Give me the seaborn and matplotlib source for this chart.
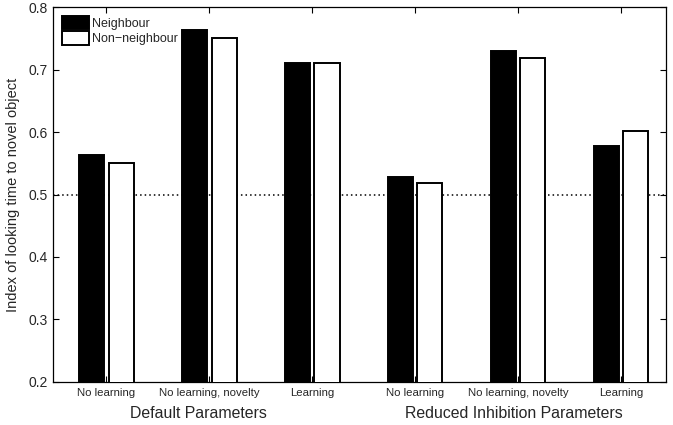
import pandas as pd
import numpy as np
import matplotlib
matplotlib.use("Agg")
import matplotlib.pyplot as plt
import matplotlib.transforms as mtransforms
import seaborn as sns

# values
conditions = ["No learning", "No learning, novelty", "Learning"]
param_sets = ["Default Parameters", "Reduced Inhibition Parameters"]
neighbour = [0.563, 0.763, 0.711, 0.528, 0.729, 0.578]
non_neighbour = [0.550, 0.750, 0.711, 0.518, 0.718, 0.601]
series = ["Neighbour", "Non\u2212neighbour"]

slots = [f"{p}|{c}" for p in param_sets for c in conditions]
df = pd.DataFrame({
    "slot": slots * 2,
    "value": neighbour + non_neighbour,
    "series": [series[0]] * 6 + [series[1]] * 6,
})

sns.set_style("white")
plt.rcParams["font.family"] = ["Liberation Sans", "DejaVu Sans"]

fig = plt.figure(figsize=(6.73, 4.25), dpi=100)
ax = fig.add_axes([0.0788, 0.1012, 0.9108, 0.8823])

sns.barplot(data=df, x="slot", y="value", hue="series", order=slots,
            hue_order=series, palette=["black", "white"], width=0.573,
            gap=0.15, edgecolor="black", linewidth=1.4, saturation=1,
            ax=ax, zorder=3)

ax.axhline(0.5, color="black", linestyle=(0, (1, 2)), linewidth=1.1, zorder=2)

ax.set_xlim(-0.519, 5.437)
ax.set_ylim(0.2, 0.8)
ax.set_yticks([0.2, 0.3, 0.4, 0.5, 0.6, 0.7, 0.8])
ax.set_yticklabels([f"{v:.1f}" for v in ax.get_yticks()], fontsize=10)
ax.set_xticks(range(6))
ax.set_xticklabels([c for _ in param_sets for c in conditions], fontsize=8.2)
ax.tick_params(direction="in", length=4, width=0.8, top=True, right=True,
               bottom=True, left=True, color="black", pad=4)
ax.set_xlabel("")
ax.set_ylabel("Index of looking time to novel object", fontsize=10.5, labelpad=6)
for s in ax.spines.values():
    s.set_color("black")
    s.set_linewidth(0.9)

trans = mtransforms.blended_transform_factory(ax.transData, fig.transFigure)
ax.text(0.89, 0.028, param_sets[0], transform=trans, ha="center", va="center",
        fontsize=11.4)
ax.text(3.96, 0.028, param_sets[1], transform=trans, ha="center", va="center",
        fontsize=11.4)

ax.legend(loc="upper left", frameon=False, fontsize=9, handlelength=2.2,
          handleheight=1.25, handletextpad=0.2, labelspacing=0.15,
          borderaxespad=0.5, borderpad=0.2)

fig.savefig("out.png", dpi=100)
